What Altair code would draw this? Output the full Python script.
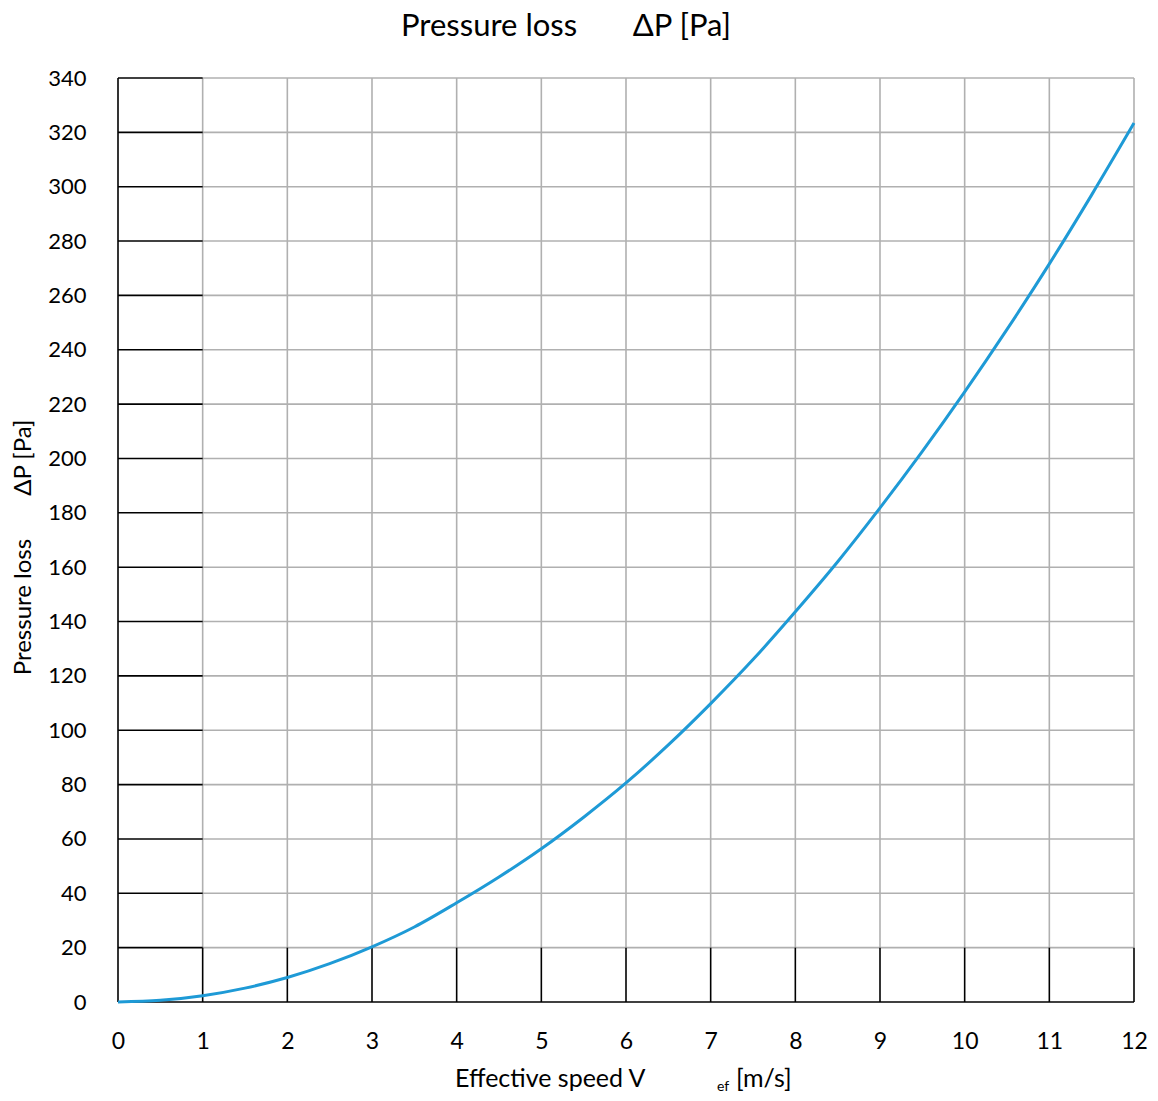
import altair as alt
import pandas as pd

# ---- data ----
speed = [0, 0.5, 1, 1.5, 2, 2.5, 3, 3.5, 4, 4.5, 5, 5.5, 6, 6.5, 7, 7.5, 8, 8.5, 9, 9.5, 10, 10.5, 11, 11.5, 12]
loss = [0, 0.6, 2.3, 5.1, 9.0, 14.1, 20.3, 27.6, 36.5, 46.0, 56.4, 68.0, 80.6, 94.6, 109.8, 126.0,
        143.6, 162.0, 181.8, 202.6, 224.5, 247.5, 271.6, 297.0, 323.4]
x_ticks = list(range(0, 13))
y_ticks = list(range(0, 341, 20))

FONT = "Lato"
GRAY = "#b0b0b0"
BLACK = "#000000"
BLUE = "#1e9ad6"

curve = pd.DataFrame({"v": speed, "dp": loss})

# grid segments (gray first, black drawn on top)
rows = []
for xv in x_ticks[1:]:
    rows.append({"x": xv, "x2": xv, "y": y_ticks[1], "y2": y_ticks[-1], "c": GRAY})
for yv in y_ticks[1:]:
    rows.append({"x": x_ticks[1], "x2": x_ticks[-1], "y": yv, "y2": yv, "c": GRAY})
rows.append({"x": x_ticks[0], "x2": x_ticks[0], "y": y_ticks[0], "y2": y_ticks[-1], "c": BLACK})
for xv in x_ticks[1:]:
    rows.append({"x": xv, "x2": xv, "y": y_ticks[0], "y2": y_ticks[1], "c": BLACK})
rows.append({"x": x_ticks[0], "x2": x_ticks[-1], "y": y_ticks[0], "y2": y_ticks[0], "c": BLACK})
for yv in y_ticks[1:]:
    rows.append({"x": x_ticks[0], "x2": x_ticks[1], "y": yv, "y2": yv, "c": BLACK})
grid = pd.DataFrame(rows)

xs = alt.Scale(domain=[0, 12], nice=False, zero=False)
ys = alt.Scale(domain=[0, 340], nice=False)

grid_layer = alt.Chart(grid).mark_rule(strokeWidth=1.6).encode(
    x=alt.X("x:Q", scale=xs, axis=alt.Axis(
        values=x_ticks, format="d", title=None, grid=False, domain=False, ticks=False, tickSize=0,
        labelFlush=False, labelOverlap=False,
        labelFont=FONT, labelFontSize=23, labelColor=BLACK, labelPadding=28)),
    x2="x2:Q",
    y=alt.Y("y:Q", scale=ys, axis=alt.Axis(
        values=y_ticks, format="d", grid=False, domain=False, ticks=False, tickSize=0,
        labelFlush=False, labelOverlap=False,
        labelFont=FONT, labelFontSize=22, labelColor=BLACK, labelPadding=32,
        title="Pressure loss\u00a0\u00a0\u00a0\u00a0\u00a0\u00a0 \u0394P [Pa]",
        titleFont=FONT, titleFontSize=24, titleFontWeight="normal", titleColor=BLACK,
        titlePadding=12, titleY=469)),
    y2="y2:Q",
    color=alt.Color("c:N", scale=None),
)

line_layer = alt.Chart(curve).mark_line(color=BLUE, strokeWidth=3, interpolate="monotone").encode(
    x=alt.X("v:Q", scale=xs),
    y=alt.Y("dp:Q", scale=ys),
)

t1 = alt.Chart(pd.DataFrame({"t": ["Effective speed V"]})).mark_text(
    font=FONT, fontSize=25, align="left", baseline="alphabetic", color=BLACK).encode(
    text="t:N", x=alt.value(337), y=alt.value(1009))
t2 = alt.Chart(pd.DataFrame({"t": ["ef"]})).mark_text(
    font=FONT, fontSize=14, align="left", baseline="alphabetic", color=BLACK).encode(
    text="t:N", x=alt.value(599), y=alt.value(1013))
t3 = alt.Chart(pd.DataFrame({"t": ["[m/s]"]})).mark_text(
    font=FONT, fontSize=25, align="left", baseline="alphabetic", color=BLACK).encode(
    text="t:N", x=alt.value(618), y=alt.value(1009))

chart = alt.layer(grid_layer, line_layer, t1, t2, t3).properties(
    width=1016, height=924,
    autosize=alt.AutoSizeParams(type="none"),
    padding={"left": 110, "top": 70, "right": 16, "bottom": 91},
    background="white",
    title=alt.TitleParams(
        text="Pressure loss\u00a0\u00a0\u00a0\u00a0\u00a0\u00a0 \u0394P [Pa]",
        font=FONT, fontSize=31, fontWeight="normal", color=BLACK,
        anchor="middle", dx=-60, offset=24),
).configure_view(stroke=None)

chart.save("out.html", embed_options={"renderer": "svg", "actions": False})
